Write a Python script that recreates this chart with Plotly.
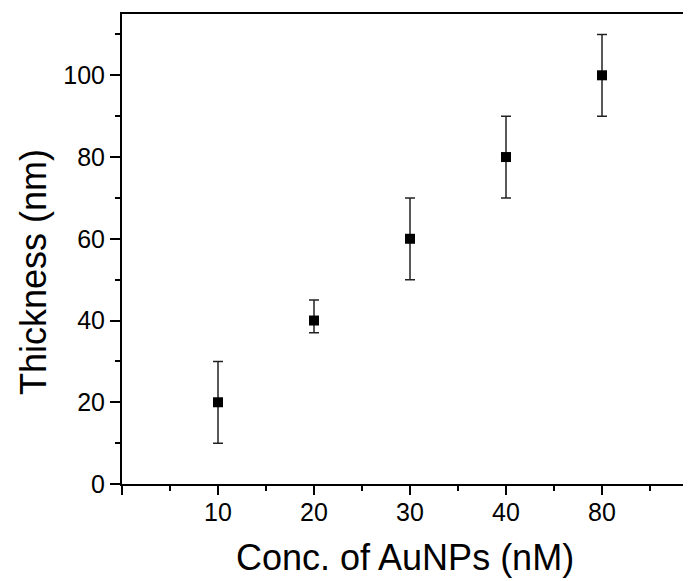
import plotly.graph_objects as go

categories = ["10", "20", "30", "40", "80"]
thickness = [20, 40, 60, 80, 100]
err_plus = [10, 5, 10, 10, 10]
err_minus = [10, 3, 10, 10, 10]

x_idx = list(range(1, len(categories) + 1))
FONT = "Arial, Liberation Sans, sans-serif"

fig = go.Figure()
fig.add_trace(go.Scatter(
    x=x_idx, y=thickness, mode="markers",
    marker=dict(symbol="square", size=10, color="black"),
    error_y=dict(type="data", array=err_plus, arrayminus=err_minus,
                 symmetric=False, color="#222222", thickness=1.5, width=5),
    showlegend=False,
))

# page body has an 8px default margin; compensate so the plot sits like the reference
OFF = 8
W, H = 691 - OFF, 581 - OFF
L, R, T, B = 122 - OFF, 0, 14 - OFF, 97
fig.update_layout(
    width=W, height=H,
    margin=dict(l=L, r=R, t=T, b=B),
    paper_bgcolor="white", plot_bgcolor="white",
    font=dict(family=FONT, color="black"),
)
fig.update_xaxes(
    range=[0, (W - L) / 96.0],
    tickmode="array", tickvals=[0] + x_idx, ticktext=[""] + categories,
    ticks="outside", ticklen=9, tickwidth=2, tickcolor="black",
    tickfont=dict(size=25, family=FONT),
    ticklabelstandoff=-4,
    showline=True, linewidth=2, linecolor="black", mirror=True,
    showgrid=False, zeroline=False,
    minor=dict(ticks="outside", ticklen=5, tickwidth=2, tickcolor="black",
               tickmode="linear", tick0=0.5, dtick=1, showgrid=False),
)
fig.update_yaxes(
    range=[0, 115],
    tickmode="linear", tick0=0, dtick=20,
    ticks="outside", ticklen=10, tickwidth=2, tickcolor="black",
    tickfont=dict(size=25, family=FONT),
    showline=True, linewidth=2, linecolor="black", mirror=False,
    showgrid=False, zeroline=False,
    minor=dict(ticks="outside", ticklen=5, tickwidth=2, tickcolor="black",
               tickmode="linear", tick0=10, dtick=20, showgrid=False),
)

pw = W - L - R
ph = H - T - B
# window-pixel targets converted to paper coords (plot area starts at 122, bottom at 484)
fig.add_annotation(
    text="Thickness (nm)", textangle=-90, showarrow=False,
    xref="paper", yref="paper",
    x=(33 - 122) / pw, y=(484 - 272) / ph,
    xanchor="center", yanchor="middle",
    font=dict(size=36, family=FONT, color="black"),
)
fig.add_annotation(
    text="Conc. of AuNPs (nM)", showarrow=False,
    xref="paper", yref="paper",
    x=(405 - 122) / pw, y=-(557 - 484) / ph,
    xanchor="center", yanchor="middle",
    font=dict(size=36, family=FONT, color="black"),
)

fig.write_html("out.html")
